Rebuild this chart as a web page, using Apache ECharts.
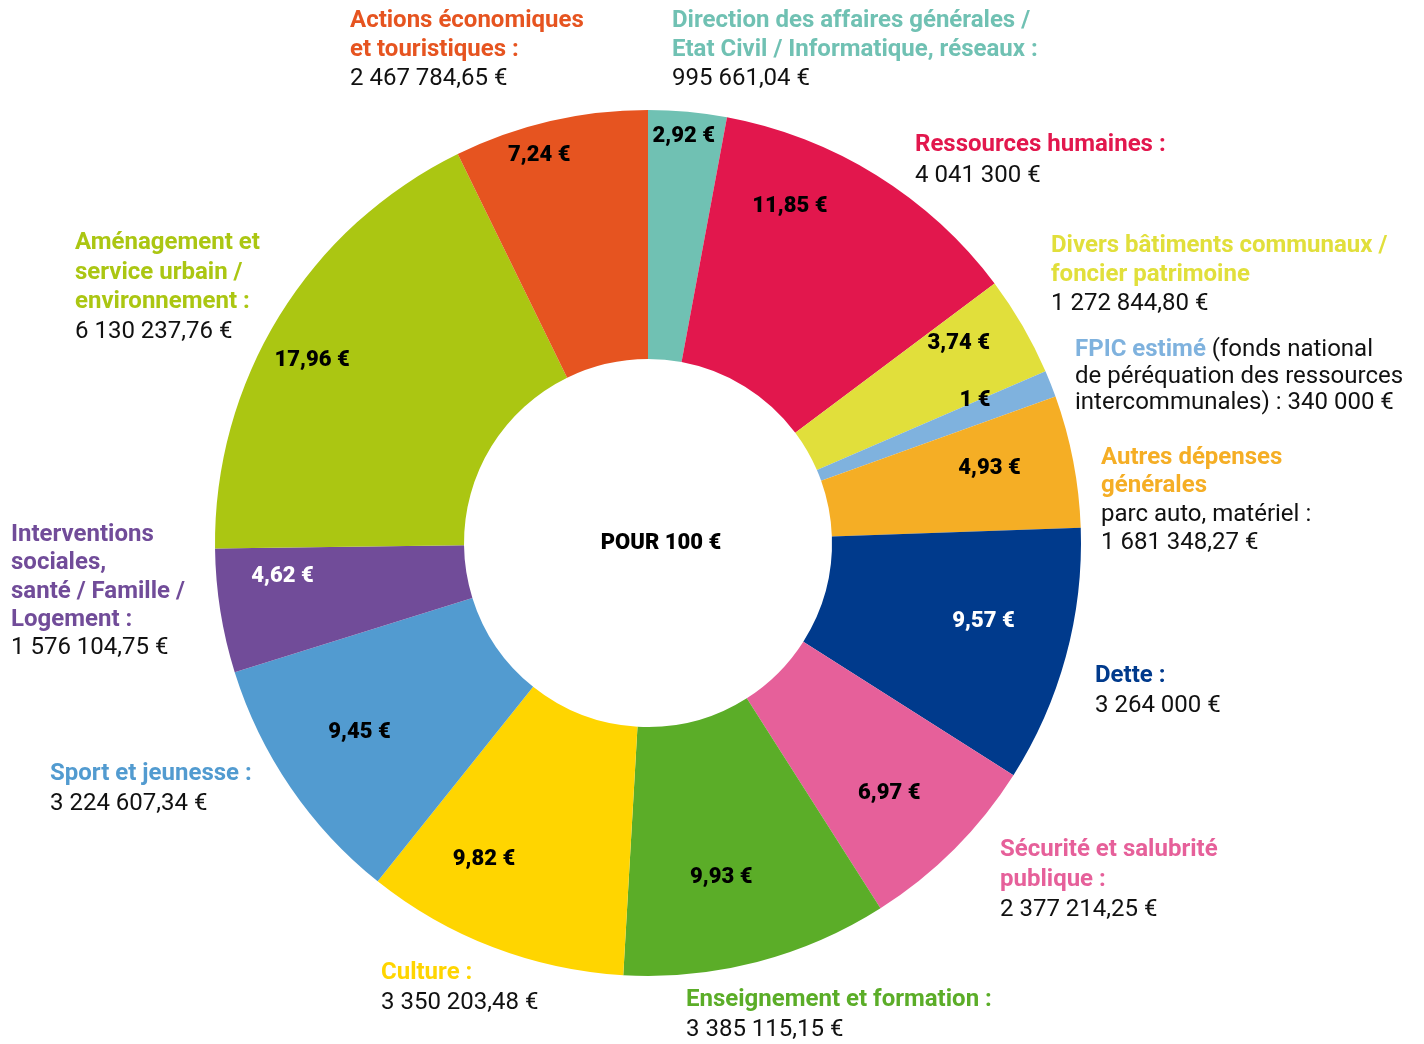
<!DOCTYPE html>
<html>
<head>
<meta charset="utf-8">
<script src="https://cdn.jsdelivr.net/npm/echarts@6/dist/echarts.min.js"></script>
<style>
  html, body { margin: 0; padding: 0; background: #fff; }
  #chart { width: 1424px; height: 1044px; }
</style>
</head>
<body>
<div id="chart"></div>
<script>
// postes de dépense, dans l'ordre horaire depuis midi
var categories = [
  "Direction des affaires générales /\nEtat Civil / Informatique, réseaux :",
  "Ressources humaines :",
  "Divers bâtiments communaux /\nfoncier patrimoine",
  "FPIC estimé",
  "Autres dépenses\ngénérales",
  "Dette :",
  "Sécurité et salubrité\npublique :",
  "Enseignement et formation :",
  "Culture :",
  "Sport et jeunesse :",
  "Interventions\nsociales,\nsanté / Famille /\nLogement :",
  "Aménagement et\nservice urbain /\nenvironnement :",
  "Actions économiques\net touristiques :"
];
// part pour 100 €
var shares = [2.92, 11.85, 3.74, 1, 4.93, 9.57, 6.97, 9.93, 9.82, 9.45, 4.62, 17.96, 7.24];
// montants en euros
var amounts = [995661.04, 4041300, 1272844.80, 340000, 1681348.27, 3264000, 2377214.25,
  3385115.15, 3350203.48, 3224607.34, 1576104.75, 6130237.76, 2467784.65];
// précisions sous certains titres
var notes = ["", "", "", " (fonds national\nde péréquation des ressources\nintercommunales) :", "parc auto, matériel :",
  "", "", "", "", "", "", "", ""];

var colors = ["#70C1B3", "#E2174D", "#E1DF3B", "#7FB2DE", "#F5AE25", "#003A8C", "#E6609A",
  "#5BAD28", "#FFD500", "#529BD0", "#714C99", "#ABC612", "#E65420"];
var whiteLabels = [5, 10];

// position des blocs de texte : x, centre de la 1re ligne, interligne
var blocks = [
  [672, 21, 29], [915, 145, 31], [1051, 246, 29], [1075, 350, 26.5], [1101, 458, 28.3],
  [1095, 676, 30], [1000, 850, 30], [686, 1000, 30], [381, 973, 30], [50, 774, 30],
  [11, 535, 28.25], [75, 243, 29.7], [350, 21, 29]
];
// petits décalages des étiquettes de pourcentage
var labelNudge = [[3, -50], [-47, -32], [1, -20], [-6, -11], [-10, -7], [-10, -15], [-12, -3],
  [-17, -12], [-36, -18], [7, -13], [-12, -23], [-31, 5], [-28, -39]];

var FONT = "Roboto, 'DejaVu Sans', sans-serif";
var center = [648, 543];

function formatEuro(v) {
  var parts = v.toFixed(2).split(".");
  var ent = parts[0].replace(/\B(?=(\d{3})+(?!\d))/g, " ");
  return parts[1] === "00" ? ent + " €" : ent + "," + parts[1] + " €";
}
function formatShare(v) {
  return String(v).replace(".", ",") + " €";
}

// données des secteurs
var sliceData = shares.map(function(v, i) {
  return { name: categories[i], value: v, itemStyle: { color: colors[i] } };
});
var labelData = shares.map(function(v, i) {
  return {
    name: categories[i],
    value: v,
    label: { color: whiteLabels.indexOf(i) > -1 ? "#fff" : "#000" }
  };
});

// blocs de texte autour de l'anneau
var graphics = categories.map(function(name, i) {
  var b = blocks[i];
  var lines = [];
  var tLines = name.split("\n");
  var nLines = notes[i] ? notes[i].split("\n") : [];
  if (i === 3) {
    // FPIC : titre et note sur la même ligne, montant en fin de note
    lines.push("{t|" + tLines[0] + "}{v|" + nLines[0] + "}");
    lines.push("{v|" + nLines[1] + "}");
    lines.push("{v|" + nLines[2] + " " + formatEuro(amounts[i]) + "}");
  } else {
    tLines.forEach(function(l) { lines.push("{t|" + l + "}"); });
    nLines.forEach(function(l) { lines.push("{v|" + l + "}"); });
    lines.push("{v|" + formatEuro(amounts[i]) + "}");
  }
  return {
    type: "text",
    x: b[0],
    y: b[1] - b[2] / 2,
    silent: true,
    style: {
      text: lines.join("\n"),
      align: "left",
      verticalAlign: "top",
      rich: {
        t: { fill: colors[i], fontFamily: FONT, fontSize: 24, fontWeight: "bold", lineHeight: b[2] },
        v: { fill: "#111", fontFamily: FONT, fontSize: 24, fontWeight: "normal", lineHeight: b[2] }
      }
    }
  };
});
graphics.push({
  type: "text",
  x: 661,
  y: 543,
  silent: true,
  style: {
    text: "POUR 100 €",
    align: "center",
    verticalAlign: "middle",
    fill: "#000",
    fontFamily: FONT,
    fontSize: 22,
    fontWeight: 900
  }
});

var myChart = echarts.init(document.getElementById("chart"));
var option = {
  animation: false,
  backgroundColor: "#fff",
  series: [
    {
      type: "pie",
      center: center,
      radius: [184, 433],
      startAngle: 90,
      clockwise: true,
      silent: true,
      label: { show: false },
      labelLine: { show: false },
      data: sliceData
    },
    {
      // anneau transparent qui porte les étiquettes
      type: "pie",
      center: center,
      radius: [184, 526],
      startAngle: 90,
      clockwise: true,
      silent: true,
      z: 3,
      itemStyle: { color: "rgba(0,0,0,0)" },
      label: {
        show: true,
        position: "inside",
        fontFamily: FONT,
        fontSize: 22,
        fontWeight: 900,
        formatter: function(p) { return formatShare(p.value); }
      },
      labelLine: { show: false },
      labelLayout: function(p) {
        var n = labelNudge[p.dataIndex];
        return { dx: n[0], dy: n[1] };
      },
      data: labelData
    }
  ],
  graphic: graphics
};
myChart.setOption(option);
</script>
</body>
</html>
